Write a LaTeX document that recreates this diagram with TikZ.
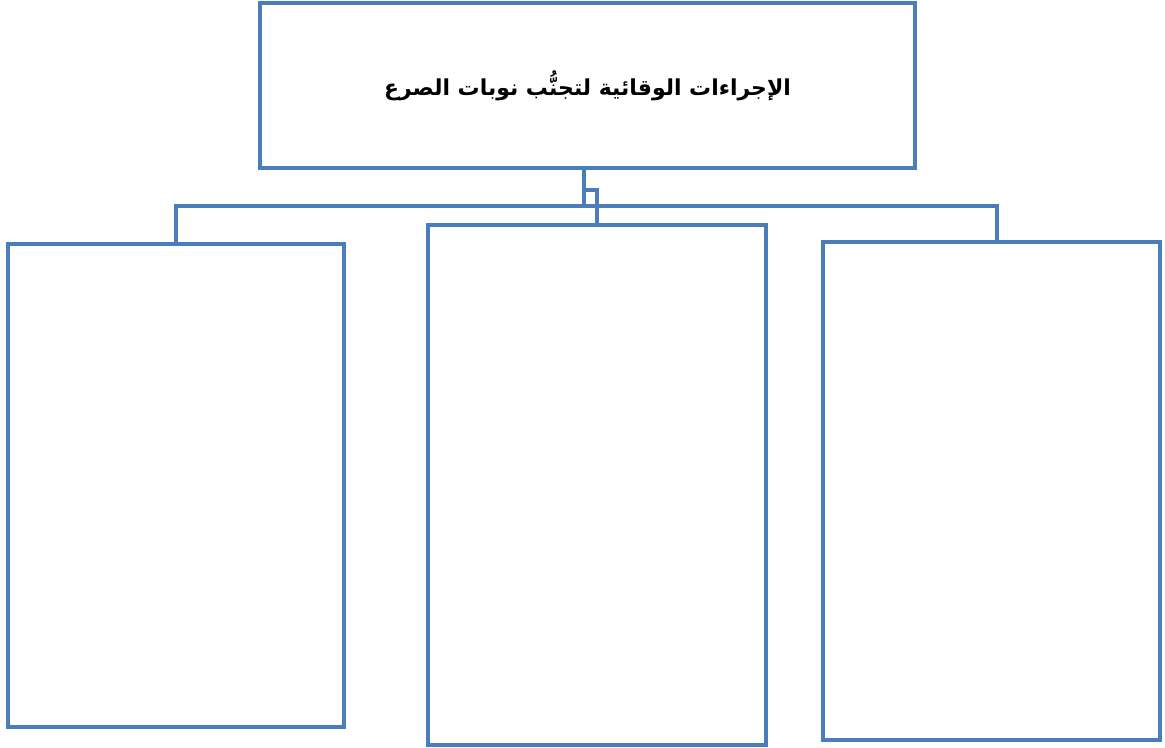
\documentclass[tikz,border=0pt]{standalone}
\usepackage{fontspec}
\newfontfamily\arabicfont[Script=Arabic]{DejaVu Sans}
\TeXXeTstate=1
\usetikzlibrary{calc}
\definecolor{boxblue}{RGB}{74,126,187}
\tikzset{
  card/.style={draw=boxblue,line width=2.3pt,fill=white,inner sep=0pt},
  link/.style={draw=boxblue,line width=2.3pt}
}

\begin{document}
\begin{tikzpicture}
  \useasboundingbox (0,0) rectangle (23.3,-14.96);
  \node[card,minimum width=13.1cm,minimum height=3.3cm] (top) at (11.75,-1.71)
    {\arabicfont\bfseries\fontsize{12.5}{15}\selectfont\beginR الإجراءات الوقائية لتجنُّب نوبات الصرع\endR};
  \node[card,minimum width=6.72cm,minimum height=9.66cm] (left) at (3.52,-9.71) {};
  \node[card,minimum width=6.76cm,minimum height=10.4cm] (middle) at (11.94,-9.7) {};
  \node[card,minimum width=6.74cm,minimum height=9.96cm] (right) at (19.83,-9.82) {};
  \draw[link] ($(top.south)+(-0.07,0)$) -- ++(0,-0.72) coordinate (bus) -| (left.north);
  \draw[link] (bus) -| ($(right.north)+(0.11,0)$);
  \draw[link] ($(top.south)+(-0.07,-0.4)$) -| (middle.north);
\end{tikzpicture}
\end{document}
